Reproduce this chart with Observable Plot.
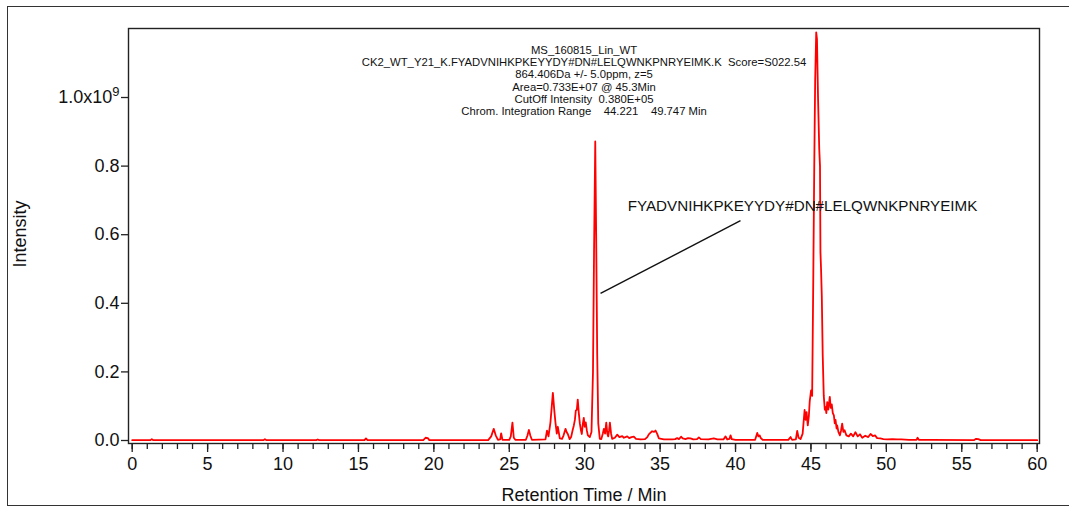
<!DOCTYPE html>
<html>
<head>
<meta charset="utf-8">
<script src="https://cdn.jsdelivr.net/npm/d3@7"></script>
<script src="https://cdn.jsdelivr.net/npm/@observablehq/plot@0.6"></script>
<style>
  html, body { margin: 0; padding: 0; background: #fff; overflow: hidden; }
  #wrap { position: relative; width: 1069px; height: 509px; }
  #border { position: absolute; left: 7px; top: 6px; width: 1080px; height: 500px; border: 1.5px solid #333; box-sizing: border-box; pointer-events: none; }
  #chart { position: absolute; left: 0; top: 0; }
</style>
</head>
<body>
<div id="wrap"><div id="chart"></div><div id="border"></div></div>
<script>
// Retention time (min)
const retentionTime = [
  0.0, 1.2, 1.3, 1.4, 8.7, 8.8, 8.9, 12.2, 12.3, 12.4, 15.4, 15.5, 15.6, 19.3, 19.45, 19.6, 19.7,
  23.6, 23.8, 23.97, 24.1, 24.25, 24.4, 24.46, 24.55, 25.0, 25.1, 25.21, 25.3, 25.4,
  26.1, 26.2, 26.3, 26.4, 26.5, 27.4, 27.5, 27.6, 27.73, 27.89, 27.98, 28.06, 28.15, 28.22, 28.35,
  28.5, 28.6, 28.73, 28.8, 28.88, 29.0, 29.1, 29.2, 29.28, 29.35, 29.41, 29.48, 29.54, 29.61, 29.68,
  29.75, 29.81, 29.88, 29.94, 30.0, 30.07, 30.14, 30.21, 30.34, 30.45, 30.55, 30.62, 30.7, 30.76,
  30.83, 30.9, 31.0, 31.1, 31.2, 31.27, 31.35, 31.43, 31.5, 31.56, 31.62, 31.67, 31.75, 31.82,
  32.0, 32.16, 32.3, 32.49, 32.6, 32.82, 32.95, 33.1, 33.26, 33.4, 33.7, 34.0, 34.15, 34.25, 34.35,
  34.47, 34.6, 34.7, 34.8, 34.92, 35.25, 35.8, 36.0, 36.13, 36.25, 36.4, 36.5, 36.68, 36.85, 37.01,
  37.2, 37.45, 37.57, 37.7, 38.2, 38.56, 38.8, 39.2, 39.34, 39.45, 39.6, 39.67, 39.75, 40.0,
  41.3, 41.44, 41.52, 41.6, 41.66, 41.8, 43.5, 43.65, 43.75, 44.0, 44.09, 44.18, 44.31, 44.45,
  44.58, 44.65, 44.71, 44.79, 44.86, 44.92, 45.01, 45.08, 45.15, 45.22, 45.28, 45.35, 45.4, 45.47,
  45.55, 45.6, 45.63, 45.67, 45.72, 45.78, 45.85, 45.92, 45.97, 46.02, 46.08, 46.15, 46.25, 46.31,
  46.38, 46.45, 46.52, 46.58, 46.63, 46.7, 46.74, 46.82, 46.92, 47.0, 47.07, 47.15, 47.23, 47.35,
  47.51, 47.65, 47.8, 47.95, 48.1, 48.25, 48.4, 48.6, 48.8, 48.95, 49.1, 49.25, 49.39, 49.6, 49.8,
  50.06, 50.4, 50.72, 51.0, 51.5, 52.0, 52.07, 52.15, 53.0, 55.8, 55.95, 56.1, 56.25, 60.0
];
// Intensity in units of 1e9
const intensityE9 = [
  0.001, 0.001, 0.004, 0.001, 0.001, 0.004, 0.001, 0.001, 0.003, 0.001, 0.001, 0.006, 0.001, 0.001, 0.008, 0.007, 0.001,
  0.001, 0.012, 0.034, 0.015, 0.002, 0.003, 0.021, 0.002, 0.002, 0.012, 0.052, 0.008, 0.002,
  0.002, 0.014, 0.031, 0.014, 0.002, 0.003, 0.029, 0.012, 0.053, 0.139, 0.09, 0.053, 0.02, 0.04, 0.006,
  0.005, 0.015, 0.034, 0.025, 0.019, 0.004, 0.01, 0.03, 0.044, 0.06, 0.087, 0.09, 0.119, 0.08, 0.049,
  0.03, 0.019, 0.05, 0.066, 0.04, 0.053, 0.03, 0.015, 0.01, 0.025, 0.2, 0.55, 0.872, 0.6,
  0.25, 0.05, 0.005, 0.004, 0.02, 0.034, 0.02, 0.052, 0.02, 0.012, 0.03, 0.052, 0.02, 0.005,
  0.008, 0.017, 0.01, 0.013, 0.008, 0.012, 0.007, 0.01, 0.011, 0.005, 0.003, 0.004, 0.01, 0.018, 0.022,
  0.027, 0.025, 0.029, 0.02, 0.006, 0.003, 0.003, 0.004, 0.007, 0.004, 0.011, 0.006, 0.004, 0.007, 0.006,
  0.003, 0.004, 0.009, 0.004, 0.003, 0.006, 0.003, 0.003, 0.012, 0.003, 0.005, 0.015, 0.004, 0.002,
  0.002, 0.022, 0.012, 0.015, 0.008, 0.002, 0.002, 0.01, 0.002, 0.003, 0.028, 0.008, 0.004, 0.02,
  0.089, 0.06, 0.083, 0.044, 0.07, 0.115, 0.146, 0.13, 0.45, 0.8, 1.05, 1.19, 1.17, 1.0,
  0.85, 0.8, 0.55, 0.5, 0.42, 0.25, 0.13, 0.09, 0.097, 0.08, 0.112, 0.09, 0.127, 0.095,
  0.105, 0.08, 0.073, 0.05, 0.06, 0.035, 0.044, 0.025, 0.015, 0.03, 0.049, 0.025, 0.03, 0.015,
  0.012, 0.02, 0.012, 0.024, 0.012, 0.018, 0.008, 0.014, 0.01, 0.019, 0.013, 0.015, 0.007, 0.006, 0.004,
  0.003, 0.004, 0.003, 0.003, 0.002, 0.002, 0.008, 0.002, 0.002, 0.001, 0.005, 0.004, 0.001, 0.001
];
const xMajorTicks = [0, 5, 10, 15, 20, 25, 30, 35, 40, 45, 50, 55, 60];
const xMinorTicks = d3.range(0, 61, 1);
const yTicks = [0, 0.2, 0.4, 0.6, 0.8, 1.0];
const headerLines = [
  "MS_160815_Lin_WT",
  "CK2_WT_Y21_K.FYADVNIHKPKEYYDY#DN#LELQWNKPNRYEIMK.K\u00a0 Score=S022.54",
  "864.406Da +/- 5.0ppm, z=5",
  "Area=0.733E+07 @ 45.3Min",
  "CutOff Intensity\u00a0 0.380E+05",
  "Chrom. Integration Range\u00a0\u00a0\u00a0 44.221\u00a0\u00a0\u00a0 49.747 Min"
];
const peptideLabel = "FYADVNIHKPKEYYDY#DN#LELQWNKPNRYEIMK";
const xLabel = "Retention Time / Min";
const yLabel = "Intensity";

const trace = retentionTime.map((t, i) => ({t, v: intensityE9[i]}));
const leader = [{x1: 31.05, y1: 0.4286, x2: 40.33, y2: 0.641}];
const labelPos = [{x: 32.85, y: 0.682, text: peptideLabel}];

const font = "'Liberation Sans', Arial, sans-serif";
const chart = Plot.plot({
  width: 1069, height: 509,
  marginLeft: 128, marginRight: 30, marginTop: 28, marginBottom: 66,
  style: {fontFamily: font, background: "transparent", color: "#111", overflow: "visible"},
  x: {domain: [-0.245, 60.153]},
  y: {domain: [-0.00875, 1.2012]},
  marks: [
    Plot.axisY({ticks: yTicks, tickSize: 7, tickPadding: 2, fontSize: 18, label: null,
      tickFormat: d => Math.abs(d - 1) < 1e-9 ? "1.0x10" : d3.format(".1f")(d), stroke: "#222", strokeWidth: 1.3}),
    Plot.axisX({ticks: xMinorTicks, tickSize: 6, tickFormat: () => "", label: null, stroke: "#222", strokeWidth: 1.3}),
    Plot.axisX({ticks: xMajorTicks, tickSize: 9, tickPadding: 5, fontSize: 18, label: null, stroke: "#222", strokeWidth: 1.3}),
    Plot.line(trace, {x: "t", y: "v", stroke: "#ff0000", strokeWidth: 1.8}),
    Plot.frame({stroke: "#222", strokeWidth: 1.4}),
    Plot.link(leader, {x1: "x1", y1: "y1", x2: "x2", y2: "y2", stroke: "#111", strokeWidth: 1.4}),
    Plot.text(labelPos, {x: "x", y: "y", text: "text", textAnchor: "start", fontSize: 15.2, fill: "#111"}),
    Plot.text([headerLines.join("\n")], {frameAnchor: "top", lineAnchor: "top", textAnchor: "middle", dy: 17, fontSize: 11.3, lineHeight: 1.075, fill: "#111"}),
    Plot.text([yLabel], {frameAnchor: "left", textAnchor: "middle", lineAnchor: "middle", rotate: -90, dx: -108, dy: -2, fontSize: 18, fill: "#111"}),
    Plot.text([xLabel], {frameAnchor: "bottom", textAnchor: "middle", lineAnchor: "middle", dy: 52, fontSize: 18, fill: "#111"})
  ]
});
// superscript exponent on the top y tick
d3.select(chart).selectAll("g[aria-label='y-axis tick label'] text").each(function() {
  if (this.textContent === "1.0x10") {
    d3.select(this).append("tspan").attr("dy", "-0.55em").attr("font-size", "0.72em").text("9");
  }
});
document.getElementById("chart").appendChild(chart);
</script>
</body>
</html>
